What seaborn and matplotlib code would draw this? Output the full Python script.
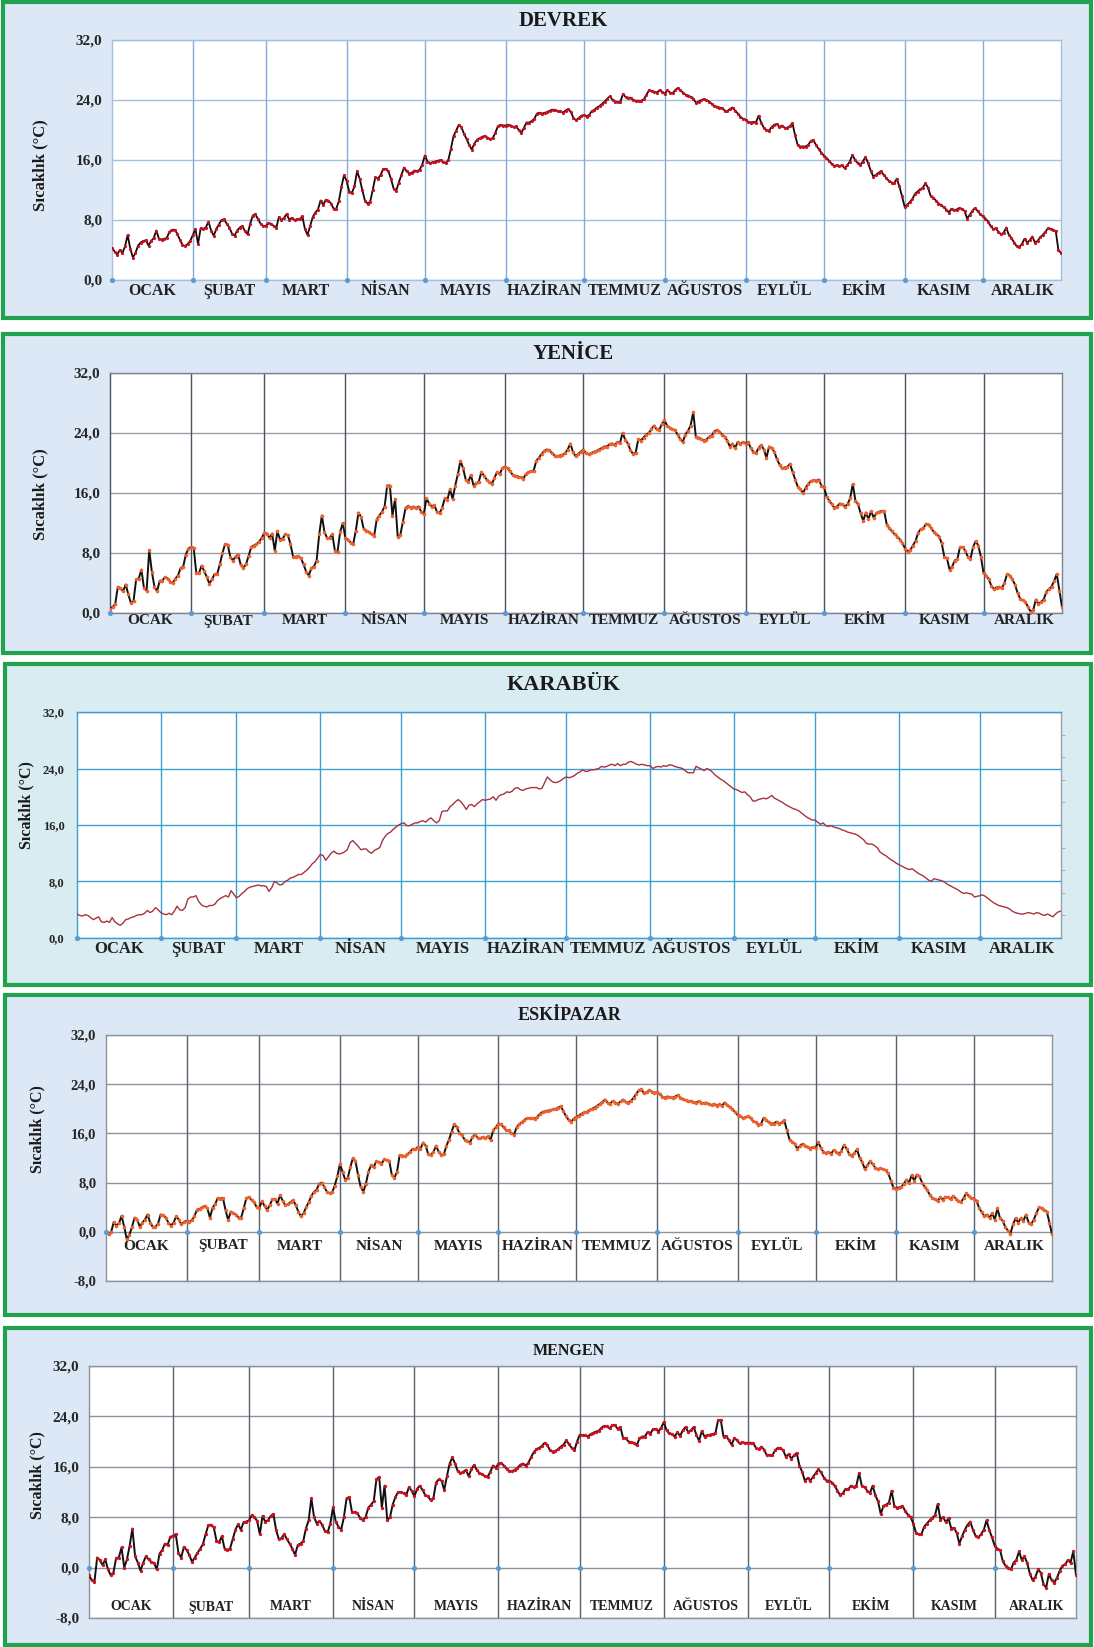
import numpy as np
import pandas as pd
import matplotlib
matplotlib.use("Agg")
import matplotlib.pyplot as plt
from matplotlib.patches import Rectangle
from matplotlib.ticker import MultipleLocator
import seaborn as sns

# ---------------------------------------------------------------- data
MONTHS = ["OCAK", "ŞUBAT", "MART", "NİSAN", "MAYIS", "HAZİRAN",
          "TEMMUZ", "AĞUSTOS", "EYLÜL", "EKİM", "KASIM", "ARALIK"]
MONTH_DAYS = [31, 28, 31, 30, 31, 30, 31, 31, 30, 31, 30, 31]
Y_TICKS_POS = [0, 8, 16, 24, 32]
Y_TICKS_NEG = [-8, 0, 8, 16, 24, 32]

# daily mean temperature (°C), one row per month
DEVREK = [
    4.3, 3.8, 3.4, 4.0, 3.6, 4.5, 6.0, 4.2, 3.0, 3.6, 4.6, 5.0, 5.2, 5.3, 4.6, 5.2, 5.6, 6.6, 5.5, 5.4, 5.5, 5.6, 6.4, 6.7, 6.7, 6.2, 5.4, 4.7, 4.5, 4.8, 5.2,
    6.0, 6.8, 4.8, 6.9, 6.8, 7.0, 7.8, 6.6, 5.9, 6.8, 7.4, 8.0, 8.1, 7.5, 7.0, 6.2, 5.9, 6.6, 7.0, 7.2, 6.5, 6.1, 7.5, 8.6, 8.8, 8.1, 7.5, 7.2,
    7.2, 7.6, 7.5, 7.2, 6.9, 8.4, 8.0, 8.3, 8.8, 8.0, 8.3, 8.0, 8.1, 8.1, 8.5, 6.8, 6.0, 7.2, 8.4, 9.0, 9.4, 10.6, 10.0, 10.7, 10.6, 10.2, 9.5, 9.5, 10.5, 12.4, 14.0,
    13.2, 11.8, 11.6, 12.5, 14.5, 13.5, 12.0, 10.6, 10.2, 10.4, 12.0, 13.7, 13.5, 14.0, 14.8, 14.8, 14.5, 13.5, 12.2, 11.9, 13.0, 14.0, 15.0, 14.5, 14.2, 14.3, 14.6, 14.5, 14.7, 15.4,
    16.6, 15.8, 15.6, 15.7, 15.8, 15.9, 16.0, 15.7, 15.6, 16.0, 17.5, 19.2, 19.9, 20.7, 20.4, 19.5, 18.8, 18.0, 17.4, 18.2, 18.7, 18.9, 19.1, 19.2, 19.0, 18.8, 18.9, 19.6, 20.5, 20.7, 20.6,
    20.6, 20.7, 20.6, 20.4, 20.5, 20.0, 19.6, 20.3, 21.0, 21.0, 21.2, 21.5, 22.2, 22.3, 22.2, 22.3, 22.4, 22.6, 22.7, 22.7, 22.5, 22.5, 22.3, 22.6, 22.8, 22.4, 21.6, 21.3, 21.6, 21.9,
    22.0, 21.8, 22.0, 22.5, 22.7, 23.0, 23.2, 23.5, 23.8, 24.2, 24.5, 24.0, 23.8, 23.7, 23.8, 24.8, 24.4, 24.3, 24.3, 24.0, 23.9, 23.9, 23.9, 24.1, 24.7, 25.3, 25.2, 25.1, 25.0, 25.3, 25.1,
    24.8, 25.3, 25.0, 24.9, 25.3, 25.6, 25.3, 25.0, 24.7, 24.6, 24.4, 24.2, 23.6, 23.8, 24.0, 24.1, 24.0, 23.8, 23.5, 23.2, 23.1, 23.0, 22.9, 22.6, 22.5, 22.8, 23.0, 22.6, 22.2, 21.8, 21.5,
    21.4, 21.1, 21.0, 21.1, 21.0, 21.9, 21.0, 20.3, 20.0, 19.9, 20.4, 20.7, 20.8, 20.4, 20.6, 20.3, 20.3, 20.5, 20.9, 19.3, 18.0, 17.8, 17.8, 17.8, 18.0, 18.5, 18.7, 18.0, 17.5, 17.0,
    16.6, 16.3, 15.9, 15.5, 15.2, 15.3, 15.2, 15.3, 14.9, 15.3, 15.8, 16.7, 16.0, 15.6, 15.3, 15.8, 16.4, 15.6, 14.6, 13.8, 14.0, 14.3, 14.5, 14.0, 13.6, 13.2, 13.0, 12.9, 13.5, 12.5, 11.2,
    9.8, 10.0, 10.4, 10.8, 11.5, 11.8, 12.1, 12.3, 12.9, 12.3, 11.2, 11.0, 10.6, 10.2, 10.0, 9.7, 9.4, 9.0, 9.5, 9.3, 9.4, 9.6, 9.5, 9.2, 8.2, 8.7, 9.2, 9.6, 9.2, 8.8,
    8.5, 8.2, 7.8, 7.2, 6.8, 6.9, 6.4, 6.1, 6.3, 7.0, 6.0, 5.6, 5.0, 4.5, 4.4, 4.8, 5.5, 5.0, 5.3, 5.8, 5.0, 5.2, 5.7, 6.0, 6.4, 6.9, 6.8, 6.7, 6.5, 4.0, 3.6,
]

YENICE = [
    0.6, 0.8, 1.2, 3.5, 3.3, 2.9, 3.8, 2.5, 1.3, 1.6, 4.5, 4.6, 5.8, 3.3, 3.0, 8.4, 5.5, 3.5, 2.9, 4.3, 4.3, 4.8, 4.6, 4.2, 4.0, 4.6, 5.0, 6.0, 6.2, 7.8, 8.6,
    8.8, 8.7, 5.3, 5.3, 6.3, 5.6, 4.8, 3.9, 4.5, 5.2, 5.2, 6.5, 8.0, 9.2, 9.1, 7.5, 7.0, 7.5, 7.8, 6.4, 6.0, 6.5, 7.6, 8.8, 9.0, 9.2, 9.5, 10.0,
    10.7, 10.6, 10.0, 10.6, 8.3, 10.9, 9.8, 9.9, 10.5, 10.4, 9.2, 7.5, 7.5, 7.6, 7.3, 6.5, 5.5, 5.0, 6.0, 6.2, 7.0, 10.5, 13.0, 10.8, 10.0, 10.0, 10.5, 8.3, 8.2, 10.8, 12.0,
    10.0, 9.8, 9.4, 9.2, 11.0, 13.4, 12.8, 11.2, 11.0, 10.8, 10.5, 10.3, 12.5, 13.0, 13.5, 14.2, 17.0, 17.0, 13.0, 15.2, 10.2, 10.4, 12.2, 14.0, 14.3, 14.0, 14.2, 14.0, 14.2, 13.5,
    13.2, 15.3, 14.6, 14.2, 14.4, 13.5, 13.3, 14.0, 15.3, 15.1, 16.5, 15.2, 17.0, 18.5, 20.3, 19.3, 17.8, 17.5, 18.4, 17.0, 17.3, 17.5, 18.8, 18.3, 17.8, 17.5, 17.2, 18.0, 18.8, 18.5, 19.3,
    19.5, 19.3, 18.9, 18.4, 18.3, 18.2, 18.1, 17.9, 18.5, 18.8, 18.9, 19.0, 20.3, 20.7, 21.2, 21.6, 21.8, 21.7, 21.3, 21.0, 20.9, 21.0, 21.1, 21.3, 21.8, 22.6, 21.5, 20.9, 21.2, 21.5,
    21.8, 21.3, 21.2, 21.3, 21.5, 21.6, 21.8, 22.0, 22.2, 22.2, 22.5, 22.6, 22.4, 22.8, 22.7, 24.0, 23.1, 22.6, 21.7, 21.2, 21.4, 23.2, 23.0, 23.4, 23.8, 24.0, 24.5, 25.0, 24.5, 24.4, 25.2,
    25.7, 25.0, 24.7, 24.5, 24.4, 23.8, 23.2, 22.8, 23.8, 24.3, 25.0, 26.8, 23.5, 23.4, 23.2, 23.0, 23.1, 23.5, 23.6, 24.2, 24.4, 24.2, 23.8, 23.5, 23.0, 22.2, 22.6, 22.0, 22.8, 22.5, 22.8,
    22.6, 22.8, 22.0, 21.5, 21.3, 22.0, 22.4, 21.8, 20.7, 22.2, 22.0, 21.5, 20.5, 19.8, 19.3, 19.4, 19.5, 19.9, 18.8, 17.8, 16.8, 16.5, 16.0, 16.7, 17.2, 17.6, 17.7, 17.6, 17.8, 17.0,
    16.8, 15.5, 15.0, 14.5, 14.0, 14.2, 14.6, 14.5, 14.2, 14.5, 15.3, 17.2, 15.0, 14.5, 13.3, 12.3, 13.4, 12.5, 13.6, 12.7, 13.3, 13.5, 13.6, 13.6, 11.8, 11.3, 10.9, 10.5, 10.2, 9.8, 9.3,
    8.6, 8.2, 8.4, 9.0, 9.6, 10.7, 11.2, 11.3, 11.9, 11.8, 11.3, 10.8, 10.5, 10.2, 9.3, 7.5, 7.3, 5.8, 6.2, 7.0, 7.2, 8.8, 8.8, 8.3, 7.5, 7.2, 8.8, 9.6, 9.0, 7.5,
    5.3, 5.0, 4.5, 3.6, 3.2, 3.4, 3.5, 3.3, 4.0, 5.2, 5.0, 4.5, 3.8, 2.7, 1.9, 1.7, 1.5, 0.8, 0.2, 0.4, 1.8, 1.2, 1.5, 1.8, 2.8, 3.2, 3.5, 4.3, 5.2, 3.0, 0.8,
]

KARABUK = [
    3.4, 3.2, 3.1, 3.3, 3.2, 2.9, 2.6, 2.8, 3.0, 2.3, 2.2, 2.4, 2.2, 2.9, 2.3, 2.0, 1.8, 2.1, 2.6, 2.7, 2.9, 3.0, 3.2, 3.3, 3.3, 3.5, 3.9, 3.6, 3.8, 4.3, 4.0,
    3.6, 3.4, 3.3, 3.5, 3.3, 3.8, 4.5, 4.0, 3.9, 4.3, 5.5, 5.8, 5.8, 6.0, 5.2, 4.7, 4.5, 4.4, 4.6, 4.6, 4.8, 5.3, 5.6, 5.8, 6.0, 5.8, 6.7, 6.2,
    5.7, 5.9, 6.3, 6.6, 7.0, 7.2, 7.3, 7.4, 7.5, 7.4, 7.4, 7.3, 6.6, 7.1, 8.0, 7.8, 7.5, 7.6, 8.0, 8.2, 8.5, 8.6, 8.8, 9.0, 9.0, 9.3, 9.6, 10.0, 10.5, 10.8, 11.3,
    11.8, 11.7, 11.0, 11.5, 12.0, 12.3, 12.0, 11.9, 12.0, 12.2, 12.5, 13.5, 13.8, 13.4, 13.0, 12.5, 12.6, 12.6, 12.2, 12.0, 12.4, 12.6, 12.8, 13.8, 14.4, 14.8, 15.0, 15.4, 15.7, 16.0,
    16.2, 16.3, 15.9, 15.9, 16.1, 16.3, 16.3, 16.5, 16.6, 16.4, 16.8, 17.0, 16.6, 16.3, 16.6, 17.9, 18.0, 18.0, 18.6, 18.9, 19.3, 19.6, 19.3, 18.8, 18.2, 18.8, 18.9, 18.6, 19.0, 19.3, 19.6,
    19.5, 19.6, 19.7, 20.0, 19.5, 20.1, 20.3, 20.4, 20.7, 20.6, 20.8, 21.2, 21.3, 21.0, 20.9, 21.1, 21.2, 21.3, 21.3, 21.3, 21.1, 21.2, 22.0, 22.8, 22.4, 22.1, 22.0, 22.1, 22.3, 22.6,
    22.8, 22.7, 22.8, 23.0, 23.3, 23.5, 23.8, 23.6, 23.6, 23.8, 23.8, 23.9, 24.0, 24.3, 24.2, 24.3, 24.5, 24.6, 24.4, 24.7, 24.4, 24.6, 24.6, 24.9, 25.0, 24.8, 24.6, 24.5, 24.6, 24.5, 24.4,
    24.4, 24.0, 24.2, 24.3, 24.2, 24.4, 24.3, 24.5, 24.5, 24.3, 24.2, 24.1, 24.0, 23.7, 23.4, 23.4, 23.4, 24.3, 24.1, 23.9, 23.7, 24.0, 23.8, 23.5, 23.1, 22.8, 22.5, 22.3, 22.0, 21.7, 21.4,
    21.1, 21.0, 20.8, 20.6, 20.7, 20.3, 20.0, 19.4, 19.4, 19.6, 19.7, 19.8, 19.7, 19.9, 20.2, 19.8, 19.6, 19.4, 19.2, 18.9, 18.7, 18.5, 18.3, 18.2, 18.0, 17.7, 17.4, 17.1, 16.9, 16.7,
    16.7, 16.4, 16.1, 16.3, 15.9, 15.8, 15.9, 15.7, 15.6, 15.5, 15.3, 15.2, 15.0, 14.9, 14.8, 14.7, 14.5, 14.2, 13.9, 13.4, 13.3, 13.3, 13.1, 12.8, 12.2, 11.9, 11.7, 11.4, 11.1, 10.9, 10.6,
    10.4, 10.2, 10.0, 9.8, 9.7, 9.8, 9.5, 9.2, 9.0, 8.8, 8.5, 8.2, 8.0, 8.4, 8.3, 8.2, 8.1, 7.9, 7.6, 7.4, 7.2, 7.0, 6.8, 6.5, 6.3, 6.4, 6.3, 6.2, 5.8, 5.9,
    6.0, 6.1, 5.9, 5.6, 5.3, 5.0, 4.8, 4.6, 4.5, 4.4, 4.3, 4.1, 3.8, 3.6, 3.5, 3.4, 3.4, 3.5, 3.6, 3.5, 3.4, 3.6, 3.5, 3.3, 3.2, 3.4, 3.2, 3.0, 3.4, 3.7, 3.8,
]

ESKIPAZAR = [
    -0.2, -0.3, 0.0, 1.6, 1.0, 1.4, 2.6, 0.8, -1.2, -0.5, 0.8, 2.3, 2.0, 0.8, 1.5, 2.0, 2.8, 1.5, 0.8, 0.8, 1.3, 2.8, 2.7, 2.3, 1.5, 1.0, 1.5, 2.5, 2.0, 1.2, 1.6,
    1.8, 1.6, 1.9, 2.5, 3.6, 3.7, 4.0, 4.2, 3.8, 2.3, 3.9, 4.5, 5.5, 5.4, 5.5, 3.5, 1.9, 3.3, 3.0, 2.8, 2.3, 2.3, 3.8, 5.5, 5.6, 5.2, 4.8, 4.0,
    3.9, 5.0, 4.2, 3.6, 4.3, 5.3, 5.3, 4.6, 6.0, 5.0, 4.3, 4.5, 4.8, 5.2, 4.3, 3.3, 2.5, 3.0, 4.0, 4.8, 5.8, 6.5, 6.8, 7.8, 8.0, 7.3, 6.5, 6.3, 6.4, 7.5, 9.0,
    11.0, 9.8, 8.5, 8.7, 10.5, 12.0, 11.5, 9.2, 7.3, 6.5, 7.8, 9.8, 10.8, 10.5, 11.5, 11.3, 11.0, 11.8, 11.6, 11.5, 9.2, 8.8, 9.8, 12.5, 12.4, 12.3, 12.6, 13.0, 13.5, 13.4,
    13.8, 13.5, 14.5, 14.0, 12.6, 12.5, 13.0, 14.0, 13.0, 12.5, 12.6, 14.0, 15.0, 16.3, 17.5, 17.0, 16.0, 15.7, 15.0, 14.8, 14.5, 15.4, 15.8, 15.3, 15.2, 15.4, 15.2, 15.5, 15.0, 16.5, 17.0,
    17.6, 17.5, 17.0, 16.5, 16.5, 16.0, 15.8, 17.0, 17.5, 17.8, 18.2, 18.5, 18.5, 18.5, 18.4, 18.7, 19.2, 19.5, 19.6, 19.7, 19.8, 19.9, 20.0, 20.2, 20.4, 19.6, 18.8, 18.2, 17.9, 18.4,
    18.7, 18.9, 19.2, 19.4, 19.5, 19.8, 20.0, 20.2, 20.5, 20.8, 21.1, 21.5, 21.0, 20.8, 21.3, 21.0, 20.8, 21.2, 21.5, 21.1, 21.0, 21.3, 21.8, 22.4, 23.0, 23.2, 22.5, 22.7, 23.0, 22.8, 22.6,
    22.7, 22.4, 22.0, 21.8, 22.0, 21.9, 21.8, 22.0, 22.2, 21.8, 21.6, 21.4, 21.2, 21.3, 21.1, 21.0, 21.2, 21.0, 20.9, 21.0, 20.8, 20.6, 20.8, 20.5, 20.7, 20.5, 21.0, 20.6, 20.3, 19.9, 19.5,
    19.0, 18.9, 18.5, 18.6, 18.8, 18.5, 18.0, 17.8, 17.4, 17.5, 18.5, 18.2, 17.8, 17.6, 17.6, 17.9, 17.5, 17.8, 18.1, 16.5, 15.0, 14.6, 14.3, 13.5, 14.0, 14.3, 14.0, 13.8, 13.5, 13.8,
    13.6, 14.6, 13.7, 13.0, 12.8, 13.0, 12.7, 13.3, 13.0, 12.6, 13.2, 14.1, 13.5, 12.6, 12.3, 12.8, 13.4, 12.0, 11.3, 10.2, 10.8, 11.5, 11.0, 10.4, 10.2, 10.3, 10.2, 10.0, 9.5, 8.3, 7.2,
    7.0, 7.2, 7.3, 7.8, 8.5, 8.0, 9.2, 8.3, 9.3, 9.0, 8.0, 7.3, 6.8, 6.0, 5.5, 5.3, 5.0, 5.6, 5.2, 5.7, 5.6, 5.3, 5.8, 5.4, 5.0, 4.8, 5.5, 6.3, 5.8, 5.5,
    5.4, 5.0, 3.8, 3.2, 2.5, 2.8, 2.3, 3.0, 2.0, 3.8, 2.2, 1.8, 0.8, 0.2, -0.3, 1.2, 2.2, 1.5, 2.2, 1.8, 2.8, 1.5, 1.2, 2.0, 3.0, 4.0, 3.8, 3.5, 3.3, 1.5, -0.4,
]

MENGEN = [
    -1.2, -2.0, -2.3, 1.6, 1.2, 0.4, 1.3, -0.3, -1.2, -0.8, 1.5, 1.6, 3.2, 0.0, 1.3, 3.5, 6.2, 1.8, 0.8, -0.5, 0.8, 1.8, 1.3, 0.9, 0.7, -0.3, 2.2, 2.8, 3.8, 3.6, 4.9,
    5.0, 5.3, 2.3, 1.6, 3.3, 2.8, 2.0, 0.9, 1.6, 2.3, 3.0, 3.7, 5.3, 6.7, 6.8, 6.4, 4.3, 4.0, 5.0, 3.0, 2.8, 3.0, 4.5, 6.0, 6.9, 6.0, 7.2, 7.3,
    7.5, 8.3, 8.0, 7.4, 5.3, 8.2, 7.3, 7.5, 8.2, 8.5, 6.0, 4.5, 4.7, 5.3, 4.5, 3.8, 3.0, 2.0, 3.6, 3.8, 4.2, 6.2, 7.5, 11.0, 8.0, 7.0, 7.4, 6.8, 5.8, 5.6, 7.0,
    9.6, 7.3, 6.5, 6.0, 8.0, 11.0, 11.2, 8.8, 8.8, 8.6, 7.9, 7.5, 8.0, 9.5, 10.0, 10.5, 14.0, 14.4, 9.5, 13.0, 7.5, 8.0, 10.0, 11.2, 12.0, 12.0, 11.8, 11.5, 12.8, 12.2,
    11.3, 12.5, 13.0, 12.3, 11.5, 11.3, 10.7, 11.0, 13.5, 14.0, 13.8, 12.3, 14.5, 16.5, 17.5, 16.5, 15.3, 15.0, 15.2, 15.5, 14.5, 15.6, 16.3, 15.5, 15.0, 14.8, 14.5, 14.4, 15.2, 16.2, 15.8,
    16.5, 16.6, 16.2, 15.7, 15.3, 15.3, 15.5, 15.8, 16.3, 16.5, 16.2, 16.6, 17.5, 18.3, 18.8, 19.0, 19.3, 19.8, 19.5, 18.6, 18.4, 18.5, 18.8, 19.2, 19.5, 20.2, 19.6, 19.0, 18.6, 20.0,
    21.1, 21.0, 21.0, 20.8, 21.2, 21.4, 21.6, 21.7, 22.2, 22.5, 22.4, 22.1, 22.6, 22.6, 22.0, 22.3, 20.5, 20.5, 20.0, 19.9, 19.8, 19.4, 20.5, 20.8, 20.8, 21.5, 21.2, 22.0, 22.0, 21.6, 22.2,
    23.1, 21.8, 21.3, 21.2, 20.8, 21.5, 20.9, 21.8, 22.3, 21.5, 21.8, 22.3, 21.1, 20.1, 21.7, 20.8, 21.0, 21.1, 21.2, 21.3, 23.4, 23.4, 20.8, 20.9, 20.2, 19.5, 20.6, 20.2, 19.7, 19.9, 19.8,
    19.8, 19.8, 19.7, 19.0, 18.8, 19.2, 18.7, 17.8, 17.9, 17.8, 18.6, 19.0, 19.0, 18.6, 17.6, 18.0, 17.3, 17.8, 18.2, 16.2, 15.2, 13.8, 14.2, 13.8, 14.4, 15.0, 15.6, 15.1, 14.3, 13.8,
    13.8, 13.5, 13.0, 12.2, 11.5, 11.8, 12.5, 12.4, 13.0, 12.8, 13.0, 15.0, 13.0, 12.8, 12.2, 11.8, 13.0, 11.5, 10.5, 8.5, 9.8, 10.0, 10.3, 12.2, 9.8, 9.5, 9.6, 9.8, 9.0, 8.4, 8.0,
    7.0, 5.5, 5.3, 5.3, 6.5, 7.0, 7.5, 7.9, 8.3, 10.1, 7.6, 8.0, 7.2, 7.8, 6.2, 6.3, 5.5, 3.8, 5.0, 6.0, 6.8, 7.3, 6.0, 5.0, 4.8, 5.3, 6.0, 7.5, 6.0, 4.8,
    3.5, 3.0, 2.8, 1.0, 0.3, 0.0, -0.3, 0.8, 1.2, 2.6, 1.2, 1.8, 0.7, -1.0, -2.0, -1.5, -0.3, -0.8, -2.6, -3.2, -1.0, -2.0, -2.4, -1.6, -0.5, 0.3, 0.5, 1.2, 0.8, 2.6, -1.2,
]

for _name, _s in [("DEVREK", DEVREK), ("YENICE", YENICE), ("KARABUK", KARABUK),
                  ("ESKIPAZAR", ESKIPAZAR), ("MENGEN", MENGEN)]:
    assert len(_s) == 365, (_name, len(_s))

# ---------------------------------------------------------------- style
sns.set_style("white")
plt.rcParams["font.family"] = ["Liberation Serif", "DejaVu Serif"]
plt.rcParams["font.weight"] = "bold"

W, H = 1094, 1647
fig = plt.figure(figsize=(W / 100, H / 100), dpi=100)
fig.patch.set_facecolor("white")

month_starts = np.concatenate([[0], np.cumsum(MONTH_DAYS)])
month_mids = (month_starts[:-1] + month_starts[1:]) / 2.0
days = np.arange(365)


def fig_rect(x0, y0, x1, y1):
    """pixel box (top-left origin) -> figure fraction [l, b, w, h]"""
    return [x0 / W, 1 - y1 / H, (x1 - x0) / W, (y1 - y0) / H]


def fmt(v):
    return f"{v:.1f}".replace(".", ",")


PANELS = [
    dict(name="DEVREK", data=DEVREK, box=(3, 2, 1091, 318), ax=(112, 40, 1061, 280),
         ylim=(0, 32), ticks=Y_TICKS_POS, bg="#dce8f5",
         grid_h="#a6bfdc", grid_v="#86acd6", spine="#a6bfdc",
         line="#1a0606", lw=1.3, marker="#c8101e", ms=2.3,
         title_xy=(563, 21), title_fs=15, month_y=291, month_fs=11.5,
         tick_fs=11, ylab_xy=(40, 165), ylab_fs=12),
    dict(name="YENİCE", data=YENICE, box=(3, 334, 1091, 653), ax=(110, 373, 1062, 613),
         ylim=(0, 32), ticks=Y_TICKS_POS, bg="#dce8f5",
         grid_h="#9a9ea6", grid_v="#4a5262", spine="#7d838e",
         line="#111111", lw=1.4, marker="#f0602a", ms=2.6,
         title_xy=(573, 354), title_fs=15, month_y=621, month_fs=11,
         tick_fs=11, ylab_xy=(40, 494), ylab_fs=12),
    dict(name="KARABÜK", data=KARABUK, box=(5, 664, 1091, 985), ax=(77, 712, 1061, 938),
         ylim=(0, 32), ticks=Y_TICKS_POS, bg="#d8ecf2",
         grid_h="#3c9fd2", grid_v="#3c9fd2", spine="#3c9fd2",
         line="#a8323e", lw=1.0, marker=None, ms=0,
         title_xy=(564, 685), title_fs=16, month_y=949, month_fs=12,
         tick_fs=9, ylab_xy=(26, 805), ylab_fs=11.5),
    dict(name="ESKİPAZAR", data=ESKIPAZAR, box=(5, 995, 1091, 1315), ax=(106, 1035, 1052, 1281),
         ylim=(-8, 32), ticks=Y_TICKS_NEG, bg="#dce8f5",
         grid_h="#8d929b", grid_v="#59606e", spine="#8d929b",
         line="#111111", lw=1.4, marker="#f0602a", ms=2.6,
         title_xy=(570, 1016), title_fs=13, month_y=1246, month_fs=11,
         tick_fs=10.5, ylab_xy=(37, 1129), ylab_fs=11.5),
    dict(name="MENGEN", data=MENGEN, box=(5, 1328, 1091, 1645), ax=(89, 1366, 1076, 1618),
         ylim=(-8, 32), ticks=Y_TICKS_NEG, bg="#dce8f5",
         grid_h="#8d929b", grid_v="#59606e", spine="#8d929b",
         line="#111111", lw=1.4, marker="#d0101e", ms=2.4,
         title_xy=(569, 1351), title_fs=11.5, month_y=1607, month_fs=10,
         tick_fs=11, ylab_xy=(37, 1475), ylab_fs=11.5),
]

for p in PANELS:
    # framed light-blue panel
    bx = p["box"]
    fig.add_artist(Rectangle((bx[0] / W, 1 - bx[3] / H), (bx[2] - bx[0]) / W, (bx[3] - bx[1]) / H,
                             transform=fig.transFigure, facecolor=p["bg"],
                             edgecolor="#20a24e", linewidth=3.0, zorder=-5))

    a = p["ax"]
    ax = fig.add_axes(fig_rect(*a))
    ax.set_facecolor("white")

    df = pd.DataFrame({"gun": days, "sicaklik": p["data"]})
    kw = dict(color=p["line"], linewidth=p["lw"], errorbar=None, ax=ax, zorder=4)
    if p["marker"]:
        kw.update(marker="o", markersize=p["ms"], markerfacecolor=p["marker"],
                  markeredgecolor=p["marker"], markeredgewidth=0)
    sns.lineplot(data=df, x="gun", y="sicaklik", **kw)

    ax.set_xlim(0, 364)
    ax.set_ylim(*p["ylim"])
    ax.set_xlabel("")
    ax.set_ylabel("")
    ax.set_xticks([])
    ax.set_yticks(p["ticks"])
    ax.set_yticklabels([fmt(t) for t in p["ticks"]], fontsize=p["tick_fs"], fontweight="bold")
    ax.tick_params(axis="y", length=3, color=p["spine"], pad=4)

    for t in p["ticks"]:
        ax.axhline(t, color=p["grid_h"], lw=1.0, zorder=1)
    for s in month_starts[1:12]:
        ax.axvline(s, color=p["grid_v"], lw=1.0, zorder=1)
    for sp in ax.spines.values():
        sp.set_color(p["spine"])
        sp.set_linewidth(1.0)
    if p["name"] == "KARABÜK":
        ax.spines["right"].set_color("#9aa3ad")
        ax.yaxis.set_minor_locator(MultipleLocator(3.2))
        ax.tick_params(axis="y", which="minor", left=False, right=True,
                       length=3, color="#9aa3ad")
        ax.tick_params(axis="y", which="major", length=5)
    if p["name"] == "YENİCE":
        ax.spines["left"].set_color("#4a5262")

    # month markers on the zero line
    ax.scatter(month_starts[:12], np.zeros(12), s=14, color="#5b9bd5",
               zorder=5, clip_on=False, linewidths=0)

    # month names
    yfrac = (a[3] - p["month_y"]) / (a[3] - a[1])
    for m, xm in zip(MONTHS, month_mids):
        ax.text(xm, yfrac, m, transform=ax.get_xaxis_transform(), ha="center",
                va="center", fontsize=p["month_fs"], fontweight="bold",
                color="#222222", clip_on=False)

    fig.text(p["title_xy"][0] / W, 1 - p["title_xy"][1] / H, p["name"],
             ha="center", va="center", fontsize=p["title_fs"], fontweight="bold",
             color="#1a1a1a")
    fig.text(p["ylab_xy"][0] / W, 1 - p["ylab_xy"][1] / H, "Sıcaklık (°C)",
             ha="center", va="center", rotation=90, fontsize=p["ylab_fs"],
             fontweight="bold", color="#1a1a1a")

fig.savefig("out.png", dpi=100, facecolor="white")
